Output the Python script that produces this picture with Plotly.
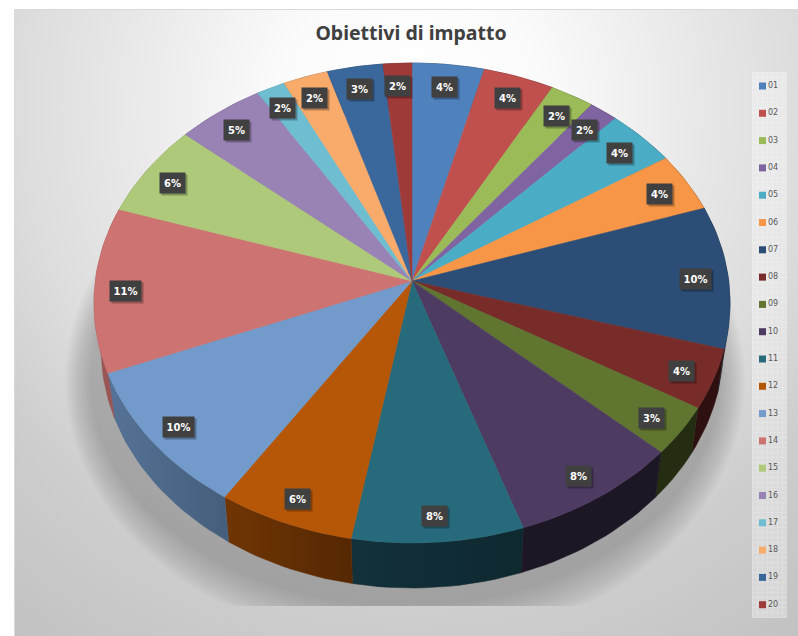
import math
import plotly.graph_objects as go

# ---------- data ----------
categories = ["01","02","03","04","05","06","07","08","09","10",
              "11","12","13","14","15","16","17","18","19","20"]
values = [4.0,3.94,2.46,1.6,3.9,4.0,9.6,4.0,3.3,8.0,
          8.0,6.4,9.7,11.1,6.3,4.9,1.6,2.5,3.1,1.6]
colors = ["#4f81bd","#c0504d","#9bbb59","#8064a2","#4bacc6","#f79646","#2c4d75","#772c2a","#5f7530","#4d3b62",
          "#276a7c","#b65708","#729aca","#cd7371","#afc97a","#9983b5","#6fbdd1","#f9ab6b","#3a679c","#9e3a38"]
title_text = "Obiettivi di impatto"

# ---------- geometry of the perspective disc ----------
CX, CY, A, B, K = 412, 281, 316.7, 238, 0.0917
DEPTH, BOTTOM_SCALE = 45, 0.978
W, H = 798, 636
LEFT, TOP = 15, 10

def project(r, deg, bottom=False):
    t = math.radians(deg)
    x, y = r * math.sin(t), r * math.cos(t)
    d = 1 + K * y
    px, py = A * x / d, B * y / d
    if bottom:
        return CX + BOTTOM_SCALE * px, CY - py + DEPTH
    return CX + px, CY - py

def scale(rgb, f):
    h = rgb.lstrip("#")
    return "rgb(%d,%d,%d)" % tuple(int(int(h[i:i+2], 16) * f) for i in (0, 2, 4))

def wall_shade(x):
    return max(0.38, 0.40 + (CX - x) * 0.00115)

total = sum(values)
edges = [0.0]
for v in values:
    edges.append(edges[-1] + v / total * 360)

def arc(a0, a1, bottom=False):
    n = max(3, int((a1 - a0) / 1.5))
    return [project(1, a0 + (a1 - a0) * i / n, bottom) for i in range(n + 1)]

fig = go.Figure()

# chart-area background
gx, gy, rx, ry = 410, 110, 780, 795
fig.add_trace(go.Scatter(
    x=[gx-rx, gx+rx, gx+rx, gx-rx, gx-rx], y=[gy-ry, gy-ry, gy+ry, gy+ry, gy-ry],
    mode="lines", line=dict(width=0), fill="toself", hoverinfo="skip",
    fillgradient=dict(type="radial", colorscale=[[0, "#ffffff"], [0.17, "#fbfbfb"], [0.37, "#e8e8e8"],
                                                 [0.51, "#dcdcdc"], [0.64, "#cdcdcd"], [0.83, "#c2c2c2"], [1, "#c0c0c0"]])))

# soft ground shadow, cut at a straight lower edge
SHADOW_X, SHADOW_Y, SHADOW_CUT = 405, 380, 606
for i in range(14):
    f = i / 13
    srx, sry = 340 - 25 * f, 265 - 38 * f
    xs, ys = [], []
    for d in range(0, 361, 3):
        t = math.radians(d)
        xs.append(SHADOW_X + srx * math.sin(t))
        ys.append(min(SHADOW_Y + sry * math.cos(t), SHADOW_CUT))
    fig.add_trace(go.Scatter(x=xs, y=ys, mode="lines", line=dict(width=0), fill="toself",
                             fillcolor="rgba(0,0,0,0.015)", hoverinfo="skip"))

# legend panel background
lx0, lx1, ly0, ly1 = 752, 787, 72, 618
fig.add_trace(go.Scatter(
    x=[lx0, lx1, lx1, lx0, lx0], y=[ly0, ly0, ly1, ly1, ly0], mode="lines", line=dict(width=0),
    fill="toself", fillcolor="rgba(255,255,255,0.3)", hoverinfo="skip",
    fillpattern=dict(shape="+", size=5, solidity=0.25, fgcolor="rgba(255,255,255,0.5)", bgcolor="rgba(255,255,255,0.3)")))

# side walls
for i, c in enumerate(colors):
    top = arc(edges[i], edges[i+1])
    bot = arc(edges[i], edges[i+1], True)
    pts = top + bot[::-1] + top[:1]
    xmin = min(p[0] for p in pts)
    xmax = max(p[0] for p in pts)
    fig.add_trace(go.Scatter(
        x=[p[0] for p in pts], y=[p[1] for p in pts], mode="lines",
        line=dict(width=0.5, color=scale(c, wall_shade((xmin + xmax) / 2))),
        fill="toself", hoverinfo="skip",
        fillgradient=dict(type="horizontal", start=xmin, stop=xmax,
                          colorscale=[[0, scale(c, wall_shade(xmin))], [1, scale(c, wall_shade(xmax))]])))

# top faces
apex = project(0, 0)
for i, c in enumerate(colors):
    pts = [apex] + arc(edges[i], edges[i+1]) + [apex]
    fig.add_trace(go.Scatter(
        x=[p[0] for p in pts], y=[p[1] for p in pts], mode="lines", line=dict(width=0.5, color=c),
        fill="toself", fillcolor=c, name=categories[i], hoverinfo="name"))

# legend entries
LEG_X, LEG_Y0, LEG_STEP = 762.5, 86, 27.3
for i, (cat, c) in enumerate(zip(categories, colors)):
    fig.add_trace(go.Scatter(
        x=[LEG_X], y=[LEG_Y0 + i * LEG_STEP], mode="markers+text", text=[cat], textposition="middle right",
        marker=dict(symbol="square", size=7, color=c),
        textfont=dict(family="DejaVu Sans", size=8, color="#595959"), hoverinfo="skip"))

# data labels
annotations = []
for i, v in enumerate(values):
    mid = (edges[i] + edges[i+1]) / 2
    x, y = project(0.90, mid)
    y += 2.5
    x -= 1
    pct = round(v / total * 100)
    bw = 31 if pct >= 10 else 25
    annotations.append(dict(x=x, y=y, xref="x", yref="y", text=" ", showarrow=False, width=bw, height=20,
                            borderpad=0, bgcolor="rgba(0,0,0,0.28)", xshift=2, yshift=-2, font=dict(size=9)))
    annotations.append(dict(x=x, y=y, xref="x", yref="y", text="<b>%d%%</b>" % pct,
                            showarrow=False, width=bw, height=20, borderpad=0, bgcolor="#404040",
                            font=dict(family="DejaVu Sans", size=10, color="#ffffff")))

fig.update_layout(
    width=W, height=H, margin=dict(l=0, r=0, t=0, b=0), showlegend=False,
    paper_bgcolor="#ffffff", plot_bgcolor="rgba(0,0,0,0)",
    title=dict(text="<b>%s</b>" % title_text, x=411/W, y=1-33/H, xanchor="center", yanchor="middle",
               font=dict(family="Noto Sans", size=19.5, color="#404040")),
    xaxis=dict(range=[LEFT, W], domain=[LEFT/W, 1], visible=False, fixedrange=True),
    yaxis=dict(range=[H, TOP], domain=[0, 1-TOP/H], visible=False, fixedrange=True),
    annotations=annotations,
    shapes=[dict(type="line", xref="paper", yref="paper", x0=(LEFT-0.5)/W, x1=(LEFT-0.5)/W, y0=0, y1=1-(TOP-0.5)/H,
                 line=dict(color="#d9d9d9", width=1)),
            dict(type="line", xref="paper", yref="paper", x0=(LEFT-0.5)/W, x1=1, y0=1-(TOP-0.5)/H, y1=1-(TOP-0.5)/H,
                 line=dict(color="#d9d9d9", width=1))],
)
fig.write_html("out.html", post_script="document.body.style.margin='0';document.body.style.overflow='hidden';",
               config=dict(displayModeBar=False))
